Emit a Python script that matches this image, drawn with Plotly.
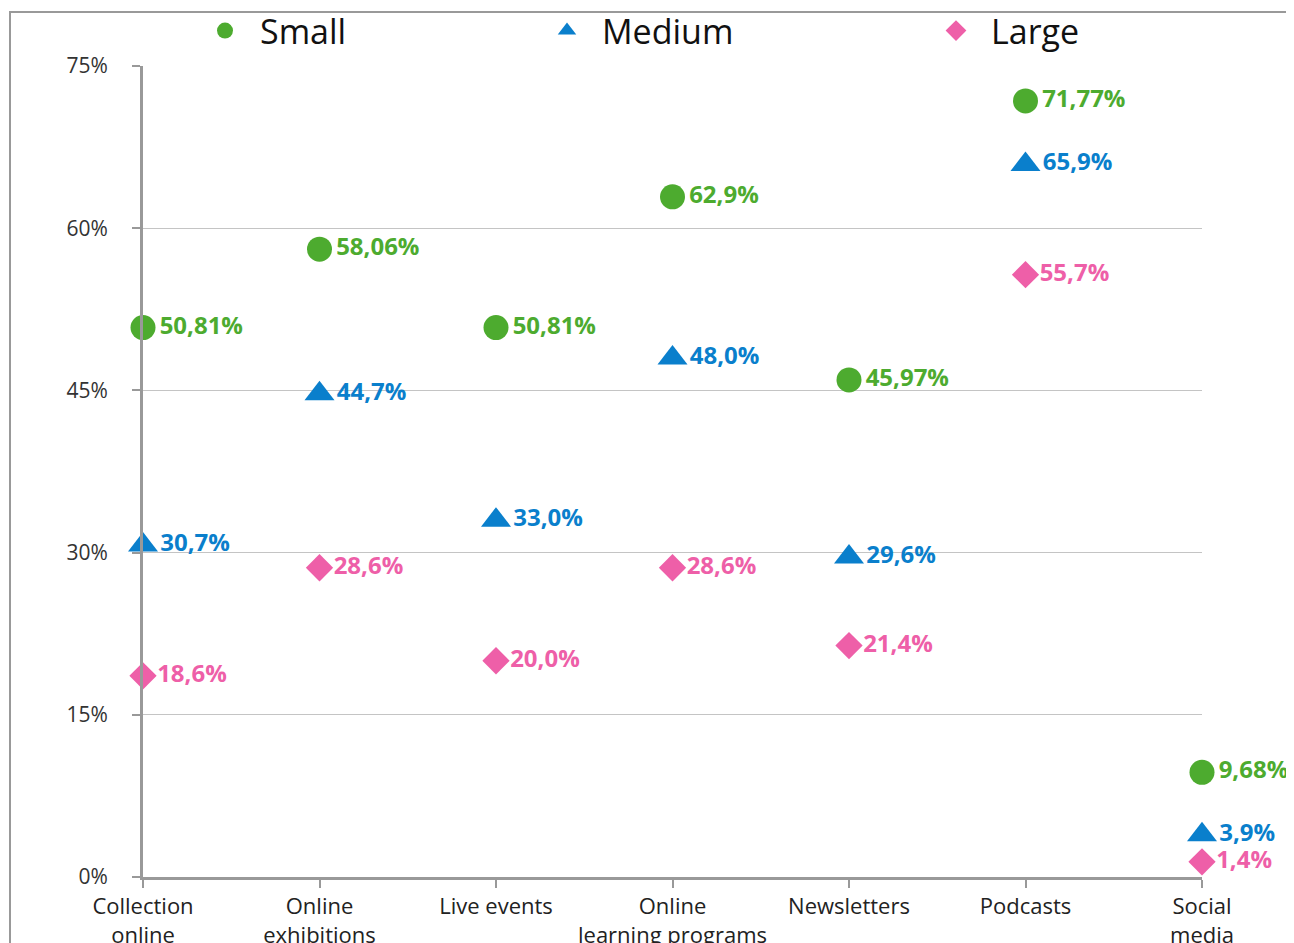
import plotly.graph_objects as go

categories = ["Collection<br>online", "Online<br>exhibitions", "Live events",
              "Online<br>learning programs", "Newsletters", "Podcasts", "Social<br>media"]
small = [50.81, 58.06, 50.81, 62.9, 45.97, 71.77, 9.68]
medium = [30.7, 44.7, 33.0, 48.0, 29.6, 65.9, 3.9]
large = [18.6, 28.6, 20.0, 28.6, 21.4, 55.7, 1.4]
small_labels = ["50,81%", "58,06%", "50,81%", "62,9%", "45,97%", "71,77%", "9,68%"]
medium_labels = ["30,7%", "44,7%", "33,0%", "48,0%", "29,6%", "65,9%", "3,9%"]
large_labels = ["18,6%", "28,6%", "20,0%", "28,6%", "21,4%", "55,7%", "1,4%"]
y_ticks = [0, 15, 30, 45, 60, 75]
y_tick_labels = ["0%", "15%", "30%", "45%", "60%", "75%"]

FONT = "Open Sans"
GREEN = "#4dab2f"
BLUE = "#0a7fcc"
PINK = "#ee5fa8"

# page body has an 8px margin, so figure pixel = screen pixel - 8
OFF = 8
W, H = 1286, 935
L, R, T, B = 143 - OFF, W - (1202 - OFF), 66 - OFF, H - (877 - OFF)
pw, ph = W - L - R, H - T - B


def px_x(sx):
    return (sx - OFF - L) / pw


def px_y(sy):
    return 1 + (T - (sy - OFF)) / ph


xpos = list(range(len(categories)))

fig = go.Figure()
series = [
    ("Small", small, small_labels, GREEN, "circle", 25, "legend"),
    ("Medium", medium, medium_labels, BLUE, "triangle-up", 26, "legend2"),
    ("Large", large, large_labels, PINK, "diamond", 21, "legend3"),
]
for name, vals, labels, color, sym, size, leg in series:
    fig.add_trace(go.Scatter(
        x=xpos, y=vals, name=name, mode="markers+text",
        marker=dict(color=color, symbol=sym, size=size),
        text=labels, textposition="middle right",
        textfont=dict(family=FONT, size=24, color=color, weight="bold"),
        cliponaxis=False, legend=leg, showlegend=True,
    ))

legend_common = dict(orientation="h", yanchor="middle", xanchor="left",
                     font=dict(family=FONT, size=34, color="#111111"),
                     bgcolor="rgba(0,0,0,0)", itemwidth=60)
fig.update_layout(
    width=W, height=H,
    margin=dict(l=L, r=R, t=T, b=B, autoexpand=False),
    paper_bgcolor="white", plot_bgcolor="white",
    showlegend=True,
    legend=dict(x=px_x(190), y=px_y(31), **legend_common),
    legend2=dict(x=px_x(532), y=px_y(31), **legend_common),
    legend3=dict(x=px_x(921), y=px_y(31), **legend_common),
    xaxis=dict(range=[0, 6], tickvals=xpos, ticktext=categories,
               showline=True, linecolor="#999999", linewidth=3,
               ticks="outside", ticklen=8, tickwidth=2, tickcolor="#999999",
               showgrid=False, zeroline=False,
               tickfont=dict(family=FONT, size=22, color="#222222")),
    yaxis=dict(range=[0, 75], tickvals=y_ticks, ticktext=y_tick_labels,
               showline=True, linecolor="#999999", linewidth=3,
               ticks="outside", ticklen=8, tickwidth=2, tickcolor="#999999",
               showgrid=True, gridcolor="#c4c4c4", gridwidth=1, zeroline=False,
               tickfont=dict(family=FONT, size=21, color="#333333"),
               ticklabelstandoff=20),
    shapes=[dict(type="rect", xref="paper", yref="paper",
                 x0=px_x(10), x1=px_x(1292), y0=px_y(1000), y1=px_y(12),
                 line=dict(color="#999999", width=2), fillcolor="rgba(0,0,0,0)",
                 layer="below")],
)

fig.write_html("out.html")
